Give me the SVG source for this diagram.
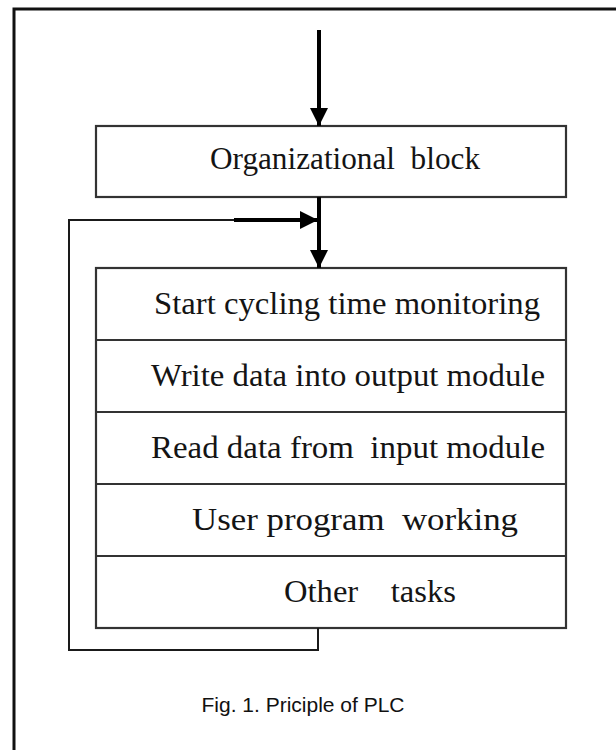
<svg xmlns="http://www.w3.org/2000/svg" width="616" height="750" viewBox="0 0 616 750">
  <style>
    .box { fill: #ffffff; stroke: #333333; stroke-width: 2.2; }
    .lbl { font-family: "Liberation Serif", "Times New Roman", serif; font-size: 31px; fill: #141414; text-anchor: middle; }
    .cap { font-family: "Liberation Sans", Arial, sans-serif; font-size: 21px; fill: #111111; text-anchor: middle; }
    .thin { fill: none; stroke: #1a1a1a; stroke-width: 2; }
    .thick { fill: none; stroke: #000000; stroke-width: 4; }
  </style>
  <defs>
    <marker id="head" viewBox="0 0 10 10" refX="10" refY="5" markerWidth="4.6" markerHeight="4.6" markerUnits="strokeWidth" orient="auto">
      <path d="M0,0 L10,5 L0,10 Z" fill="#000000"/>
    </marker>
  </defs>

  <rect width="616" height="750" fill="#ffffff"/>
  <!-- outer frame, open past the right and bottom edges -->
  <rect x="14" y="9" width="700" height="800" fill="none" stroke="#111111" stroke-width="3"/>

  <g id="organizational-block">
    <rect class="box" x="96" y="126" width="470" height="71"/>
    <text class="lbl" x="345" y="169" textLength="270" lengthAdjust="spacingAndGlyphs" xml:space="preserve">Organizational  block</text>
  </g>

  <g id="cycle-stack">
    <rect class="box" x="96" y="268" width="470" height="360"/>
    <line class="box" x1="96" y1="340" x2="566" y2="340"/>
    <line class="box" x1="96" y1="412" x2="566" y2="412"/>
    <line class="box" x1="96" y1="484" x2="566" y2="484"/>
    <line class="box" x1="96" y1="556" x2="566" y2="556"/>
  </g>
  <g id="start-monitoring">
    <text class="lbl" x="347" y="314" textLength="386" lengthAdjust="spacingAndGlyphs">Start cycling time monitoring</text>
  </g>
  <g id="write-output">
    <text class="lbl" x="348" y="386" textLength="394" lengthAdjust="spacingAndGlyphs">Write data into output module</text>
  </g>
  <g id="read-input">
    <text class="lbl" x="348" y="458" textLength="394" lengthAdjust="spacingAndGlyphs" xml:space="preserve">Read data from  input module</text>
  </g>
  <g id="user-program">
    <text class="lbl" x="355" y="530" textLength="326" lengthAdjust="spacingAndGlyphs" xml:space="preserve">User program  working</text>
  </g>
  <g id="other-tasks">
    <text class="lbl" x="370" y="602" textLength="172" lengthAdjust="spacingAndGlyphs" xml:space="preserve">Other    tasks</text>
  </g>

  <g id="connectors">
    <!-- entry arrow -->
    <line class="thick" x1="319" y1="30" x2="319" y2="126" marker-end="url(#head)"/>
    <!-- into the cycle -->
    <line class="thick" x1="319" y1="197" x2="319" y2="268" marker-end="url(#head)"/>
    <!-- return loop -->
    <polyline class="thin" points="318,628 318,650 69,650 69,220 236,220"/>
    <line class="thick" x1="234" y1="220" x2="318" y2="220" marker-end="url(#head)"/>
  </g>

  <text class="cap" x="303" y="712">Fig. 1. Priciple of PLC</text>
</svg>
